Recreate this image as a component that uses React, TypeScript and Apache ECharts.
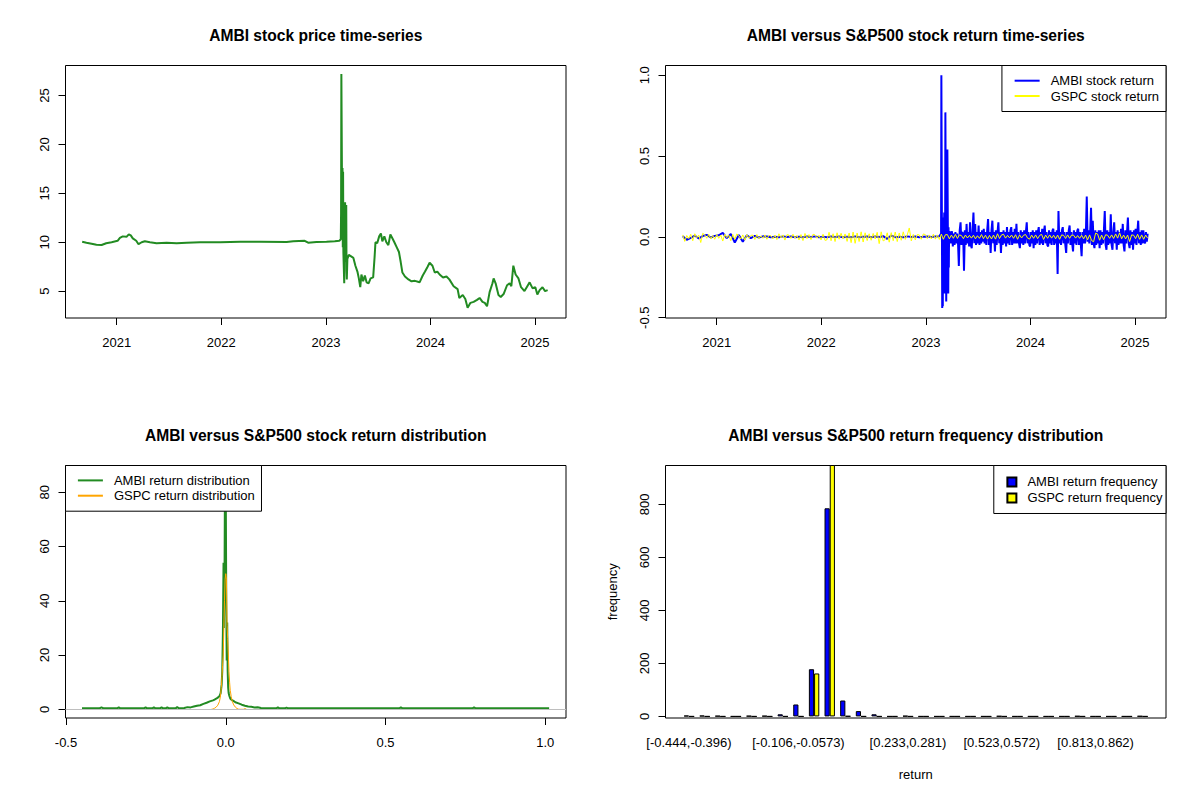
import React, { useEffect, useRef } from 'react';
import * as echarts from 'echarts';

const FONT = '"Liberation Sans", Arial, sans-serif';

// ---- top-left: AMBI closing price ----
const priceDates = [
  '2020-09-02', '2020-09-17', '2020-10-05', '2020-10-22', '2020-11-09', '2020-11-25', '2020-12-14',
  '2021-01-04', '2021-01-12', '2021-01-22', '2021-02-04', '2021-02-12', '2021-02-19', '2021-02-26',
  '2021-03-10', '2021-03-18', '2021-03-29', '2021-04-09', '2021-04-27', '2021-05-20', '2021-06-24',
  '2021-07-29', '2021-09-02', '2021-10-19', '2021-12-28', '2022-03-08', '2022-05-16', '2022-08-17',
  '2022-09-09', '2022-10-19', '2022-10-31', '2022-11-29', '2023-01-03', '2023-02-01', '2023-02-17',
  '2023-02-22', '2023-02-23', '2023-02-24', '2023-02-27', '2023-02-28', '2023-03-01', '2023-03-02',
  '2023-03-03', '2023-03-06', '2023-03-07', '2023-03-08', '2023-03-09', '2023-03-10', '2023-03-13',
  '2023-03-14', '2023-03-15', '2023-03-17', '2023-03-22', '2023-04-07', '2023-04-14', '2023-04-21',
  '2023-04-26', '2023-05-01', '2023-05-05', '2023-05-11', '2023-05-17', '2023-05-23', '2023-05-30',
  '2023-06-06', '2023-06-15', '2023-06-20', '2023-06-23', '2023-06-29', '2023-07-06', '2023-07-12',
  '2023-07-17', '2023-07-24', '2023-07-31', '2023-08-07', '2023-08-14', '2023-08-21', '2023-08-28',
  '2023-09-05', '2023-09-13', '2023-09-19', '2023-09-25', '2023-10-04', '2023-10-16', '2023-10-27',
  '2023-11-08', '2023-11-24', '2023-12-05', '2023-12-13', '2023-12-22', '2023-12-29', '2024-01-08',
  '2024-01-16', '2024-01-25', '2024-02-02', '2024-02-14', '2024-02-26', '2024-03-07', '2024-03-22',
  '2024-04-05', '2024-04-11', '2024-04-23', '2024-05-02', '2024-05-10', '2024-05-20', '2024-05-31',
  '2024-06-12', '2024-06-21', '2024-07-01', '2024-07-09', '2024-07-17', '2024-07-26', '2024-08-05',
  '2024-08-09', '2024-08-16', '2024-08-26', '2024-09-03', '2024-09-13', '2024-09-25', '2024-10-04',
  '2024-10-10', '2024-10-17', '2024-10-25', '2024-11-04', '2024-11-13', '2024-11-25', '2024-12-05',
  '2024-12-13', '2024-12-23', '2025-01-02', '2025-01-09', '2025-01-17', '2025-01-27', '2025-02-05',
  '2025-02-14',
];
const priceValues = [
  10.05, 9.95, 9.85, 9.75, 9.72, 9.9, 10.0,
  10.15, 10.45, 10.6, 10.55, 10.8, 10.7, 10.4,
  10.15, 9.8, 10.0, 10.1, 10.0, 9.9, 9.95,
  9.9, 9.95, 10.0, 10.0, 10.05, 10.05, 10.02,
  10.1, 10.15, 9.95, 10.02, 10.05, 10.1, 10.15,
  10.3, 13.0, 27.2, 12.0, 17.6, 9.5, 17.2,
  9.0, 5.8, 9.5, 12.0, 14.1, 8.0, 13.8,
  7.0, 6.2, 8.3, 8.7, 8.4, 7.6, 7.0,
  6.3, 5.4, 6.7, 6.0, 6.6, 5.9, 5.8,
  6.3, 6.4, 8.5, 10.0, 9.9, 10.6, 10.9,
  10.1, 10.6, 10.0, 9.7, 10.8, 10.4, 10.0,
  9.5, 9.0, 8.0, 6.9, 6.5, 6.2, 6.0,
  6.05, 5.9, 6.6, 7.0, 7.5, 7.9, 7.6,
  6.9, 7.0, 6.7, 6.4, 6.5, 6.2, 5.5,
  5.2, 4.3, 4.6, 4.2, 3.3, 3.8, 3.9,
  4.1, 4.3, 3.9, 3.8, 3.45, 4.9, 5.8,
  6.3, 5.8, 4.6, 4.4, 4.7, 5.6, 5.8,
  5.5, 7.6, 6.7, 6.3, 5.4, 5.0, 5.5,
  5.9, 5.3, 5.4, 4.65, 5.1, 5.4, 5.0,
  5.1,
];

// ---- top-right: daily returns (sampled) ----
const gspcReturnStart = '2020-09-04'; // one value per week
const gspcReturns = [
  0.012, -0.028, 0.008, -0.011, 0.016, -0.024, 0.019, -0.006, 0.011, -0.035, 0.022, 0.012, -0.009, 0.016, -0.012, 0.008, -0.015,
  0.014, -0.009, 0.011, -0.026, 0.016, -0.005, 0.011, -0.024, 0.015, -0.015, 0.018, 0.007, -0.013, 0.012, -0.021, 0.014, -0.008,
  0.009, 0.011, -0.016, 0.014, -0.011, 0.006, -0.009, 0.012, -0.015, 0.009, 0.007, -0.013, 0.010, -0.017, 0.019, -0.006, 0.012,
  -0.020, 0.013, 0.011, -0.010, 0.016, -0.008, 0.009, -0.019, 0.014, -0.023, 0.021, -0.011, 0.014, -0.017, 0.016, 0.012, -0.009, 0.010,
  -0.019, 0.016, -0.022, -0.018, 0.028, -0.024, 0.019, -0.029, 0.025, -0.015, 0.022, -0.012, 0.018, -0.028, 0.024, -0.036, 0.030,
  -0.040, 0.024, -0.029, 0.031, -0.032, 0.025, -0.023, 0.019, -0.021, 0.021, -0.013, 0.028, -0.042, 0.031, -0.025, -0.017, 0.025,
  -0.033, 0.026, -0.024, 0.030, -0.029, 0.024, -0.021, 0.031, -0.016, 0.012, 0.055, -0.025, 0.015, -0.019, 0.014, 0.012, -0.015, 0.018,
  0.014, -0.011, 0.012, -0.013, 0.016, -0.014, 0.012, -0.016, 0.017, -0.015, 0.013, 0.014, -0.012, 0.011, -0.009, 0.015, -0.010,
  0.012, 0.008, -0.011, 0.011, -0.007, 0.009, -0.008, 0.010, -0.012, 0.007, -0.009, 0.014, -0.011, 0.010, -0.014, 0.009, -0.013,
  0.011, -0.014, 0.019, -0.010, 0.012, 0.016, -0.008, 0.009, -0.006, 0.011, -0.009, 0.013, -0.015, 0.012, -0.007, 0.010, 0.014, -0.008,
  -0.014, 0.011, -0.009, 0.012, -0.011, 0.009, 0.015, -0.016, 0.011, -0.009, 0.012, -0.008, 0.010, -0.012, 0.011, -0.015, 0.012,
  0.009, -0.010, 0.012, -0.009, 0.011, 0.010, -0.008, 0.008, -0.009, 0.010, -0.012, 0.011, -0.018, 0.012, -0.023, -0.030, 0.023,
  0.017, -0.021, 0.011, -0.017, 0.013, 0.010, -0.009, 0.012, -0.010, 0.018, -0.008, 0.025, -0.012, 0.011, -0.013, 0.011, -0.029, 0.012, 0.010,
  -0.011, 0.016, -0.015, 0.012, -0.015, 0.011, -0.008,
];
const ambiEarlyStart = '2020-09-04'; // one value per 14 days, before the listing
const ambiEarlyReturns = [
  0.004, -0.018, -0.006, 0.008, -0.010, 0.005, 0.012, -0.004, 0.006, 0.010, 0.025,
  -0.008, 0.018, -0.035, 0.012, -0.030, 0.010, -0.008, 0.006, -0.004, 0.003,
  0.002, -0.003, 0.001, -0.002, 0.003, -0.001, 0.002, -0.002, 0.001, -0.003,
  0.002, -0.001, 0.003, -0.002, 0.001, -0.002, 0.002, -0.001, 0.002, -0.003,
  0.001, -0.002, 0.003, -0.002, 0.001, 0.002, -0.003, 0.002, -0.001, 0.004,
  -0.012, 0.008, -0.002, 0.001, -0.002, 0.003, -0.001, 0.002, -0.002, 0.001,
  0.002, -0.001, 0.002, 0.003,
];
const ambiListingDates = [
  '2023-02-23', '2023-02-24', '2023-02-27', '2023-02-28', '2023-03-01', '2023-03-02', '2023-03-03',
  '2023-03-06', '2023-03-07', '2023-03-08', '2023-03-09', '2023-03-10', '2023-03-13', '2023-03-14',
  '2023-03-15', '2023-03-16', '2023-03-17', '2023-03-20', '2023-03-21', '2023-03-22', '2023-03-23',
];
const ambiListingReturns = [
  0.02, 1.0, -0.44, 0.12, -0.43, 0.08, -0.2,
  0.15, -0.35, 0.05, -0.15, 0.77, -0.4, 0.1,
  -0.3, 0.05, 0.54, -0.35, 0.06, -0.19, 0.03,
];
const ambiLateStart = '2023-03-27'; // one value per 3 days
const ambiLateReturns = [
  0.03, -0.04, 0.035, -0.06, 0.02, -0.05, 0.03, -0.04, 0.02, -0.03,
  -0.18, 0.04, 0.09, -0.05, 0.03, 0.02, -0.21, 0.04, -0.05, 0.08,
  -0.04, 0.03, -0.06, 0.09, -0.05, -0.07, 0.04, 0.15, -0.04, 0.08,
  -0.05, 0.03, -0.04, 0.07, -0.05, 0.03, -0.04, 0.04, -0.03, 0.05,
  -0.04, 0.03, -0.05, 0.04, 0.11, -0.05, 0.03, -0.1, 0.04, 0.1,
  -0.04, 0.03, -0.09, 0.04, -0.05, 0.03, 0.09, -0.04, 0.03, -0.1,
  0.03, -0.05, 0.04, -0.04, 0.03, -0.06, 0.06, -0.04, 0.03, -0.05,
  0.04, 0.06, -0.05, 0.03, -0.04, 0.05, -0.04, 0.08, -0.04, 0.03,
  -0.04, -0.07, 0.04, -0.04, 0.03, -0.05, 0.04, -0.04, 0.03, 0.09,
  -0.04, 0.03, -0.05, -0.06, 0.03, -0.04, 0.04, -0.07, 0.03, -0.05,
  0.04, -0.04, 0.03, 0.06, -0.05, 0.03, -0.04, 0.05, -0.05, 0.03,
  0.07, -0.04, 0.03, -0.05, -0.06, 0.04, -0.04, 0.03, -0.05, 0.04,
  0.05, -0.05, 0.03, -0.04, 0.04, -0.23, 0.16, -0.04, 0.03, -0.05,
  0.04, 0.06, -0.04, 0.03, -0.05, -0.1, 0.03, -0.04, 0.04, 0.07,
  -0.05, 0.03, -0.04, -0.09, 0.04, -0.04, 0.03, -0.05, 0.04, 0.05,
  -0.05, 0.03, -0.04, -0.12, 0.03, -0.04, 0.05, -0.04, 0.03, 0.25,
  -0.03, 0.04, -0.04, 0.03, 0.18, -0.05, 0.1, -0.04, -0.07, 0.04,
  -0.05, 0.03, -0.04, 0.04, -0.07, 0.04, -0.05, 0.03, -0.04, 0.04,
  0.16, -0.05, -0.08, 0.04, -0.05, 0.03, -0.04, 0.14, -0.05, -0.08,
  0.03, 0.09, -0.04, 0.03, -0.08, 0.04, -0.05, 0.03, -0.04, 0.05,
  -0.04, 0.08, -0.05, -0.09, 0.04, -0.04, 0.03, 0.12, -0.04, -0.07,
  0.04, -0.05, 0.03, -0.08, 0.04, -0.04, 0.05, -0.05, 0.03, 0.1,
  -0.04, 0.03, -0.05, 0.04, -0.04, 0.04, -0.03, -0.04, 0.03, -0.03,
  0.02,
];

// ---- bottom-left: kernel density of returns ----
const ambiDensityX = [
  -0.45, -0.395, -0.389, -0.383, -0.34, -0.335, -0.33, -0.256, -0.251, -0.246, -0.23, -0.225, -0.22,
  -0.206, -0.201, -0.196, -0.188, -0.183, -0.178, -0.157, -0.152, -0.147, -0.13, -0.12, -0.11,
  -0.1, -0.09, -0.08, -0.07, -0.06, -0.05, -0.04, -0.035, -0.03, -0.025, -0.02, -0.016, -0.013,
  -0.011, -0.009, -0.007, -0.006, -0.004, -0.003, -0.0015, 0, 0.0015, 0.003, 0.0045, 0.006, 0.0075,
  0.009, 0.011, 0.014, 0.018, 0.024, 0.03, 0.04, 0.05, 0.06, 0.07, 0.08, 0.09, 0.1, 0.11, 0.13,
  0.158, 0.163, 0.168, 0.185, 0.19, 0.195, 0.3, 0.543, 0.548, 0.553, 0.772, 0.777, 0.782, 1.012,
];
const ambiDensityY = [
  0.35, 0.35, 0.7, 0.35, 0.35, 0.7, 0.35, 0.35, 0.7, 0.35, 0.35, 0.7, 0.35,
  0.35, 0.7, 0.35, 0.35, 0.7, 0.35, 0.35, 0.8, 0.4, 0.5, 0.8, 0.7,
  1.0, 1.3, 1.5, 2.0, 2.4, 2.9, 3.3, 3.6, 3.9, 4.3, 4.8, 6, 9,
  14, 28, 54, 30, 45, 72, 86.5, 80, 40, 18, 32, 14, 8,
  6, 5, 4, 3.5, 3.1, 2.6, 2.2, 1.7, 1.3, 1.0, 0.9, 0.7, 0.75, 0.5, 0.35,
  0.35, 0.7, 0.35, 0.35, 0.6, 0.35, 0.35, 0.35, 0.7, 0.35, 0.35, 0.7, 0.35, 0.35,
];
const gspcDensityX = [
  -0.045, -0.04, -0.035, -0.03, -0.025, -0.02, -0.017, -0.014, -0.012, -0.01, -0.008, -0.006, -0.004,
  -0.002, 0, 0.002, 0.004, 0.006, 0.008, 0.01, 0.012, 0.014, 0.017, 0.02, 0.025, 0.03, 0.035, 0.04,
  0.045, 0.055, 0.06, 0.065,
];
const gspcDensityY = [
  0, 0.1, 0.4, 0.8, 1.5, 2.8, 4.5, 8, 12, 16, 20, 30, 40,
  48, 50, 48, 31, 26, 20, 14, 10, 7, 4.7, 3, 1.6, 0.8, 0.3, 0.05,
  0, 0, 0.25, 0,
];

// ---- bottom-right: return frequency ----
const returnBins = [
  '[-0.444,-0.396)', '[-0.396,-0.347)', '[-0.347,-0.299)', '[-0.299,-0.251)', '[-0.251,-0.202)',
  '[-0.202,-0.154)', '[-0.154,-0.106)', '[-0.106,-0.0573)', '[-0.0573,-0.00895)', '[-0.00895,0.0394)',
  '[0.0394,0.0878)', '[0.0878,0.136)', '[0.136,0.184)', '[0.184,0.233)', '[0.233,0.281)',
  '[0.281,0.33)', '[0.33,0.378)', '[0.378,0.426)', '[0.426,0.475)', '[0.475,0.523)',
  '[0.523,0.572)', '[0.572,0.62)', '[0.62,0.668)', '[0.668,0.716)', '[0.716,0.765)',
  '[0.765,0.813)', '[0.813,0.862)', '[0.862,0.91)', '[0.91,0.958)', '[0.958,1.01]',
];
const ambiFreq = [3, 3, 2, 0, 2, 2, 8, 45, 178, 785, 60, 20, 8, 0, 2, 0, 0, 0, 0, 0, 1, 0, 0, 0, 0, 1, 0, 0, 0, 1];
const gspcFreq = [0, 0, 0, 0, 0, 0, 0, 0, 162, 958, 1, 0, 0, 0, 0, 0, 0, 0, 0, 0, 0, 0, 0, 0, 0, 0, 0, 0, 0, 0];
const shownBinLabels = [0, 7, 14, 20, 26];

const yearTicks = [2021, 2022, 2023, 2024, 2025];
const priceTicks = [5, 10, 15, 20, 25];
const returnTicks = [-0.5, 0, 0.5, 1];
const densityXTicks = [-0.5, 0, 0.5, 1];
const densityYTicks = [0, 20, 40, 60, 80];
const freqTicks = [0, 200, 400, 600, 800];

const DAY = 86400000;
const toYear = (t: number) => {
  const y = new Date(t).getUTCFullYear();
  const a = Date.UTC(y, 0, 1);
  const b = Date.UTC(y + 1, 0, 1);
  return y + (t - a) / (b - a);
};
const onDates = (dates: string[], values: number[]) => dates.map((d, i) => [toYear(Date.parse(d)), values[i]]);
const onGrid = (start: string, stepDays: number, values: number[]) =>
  values.map((v, i) => [toYear(Date.parse(start) + i * stepDays * DAY), v]);
const pairs = (xs: number[], ys: number[]) => xs.map((x, i) => [x, ys[i]]);

const textBase = { fontFamily: FONT, fontSize: 13, color: '#000' };

const grids = [
  { left: 65.5, top: 65.5, width: 500.5, height: 252.5 },
  { left: 665.5, top: 65.5, width: 500.5, height: 252.5 },
  { left: 65.5, top: 465.5, width: 500.5, height: 252.5 },
  { left: 665.5, top: 465.5, width: 500.5, height: 252.5 },
].map((g) => ({ ...g, show: true, borderColor: '#000', borderWidth: 1, containLabel: false, outerBoundsMode: 'none' }));

const valueAxis = (
  gridIndex: number, min: number, max: number, ticks: number[],
  fmt: (v: number) => string, isY: boolean,
) => ({
  type: 'value', gridIndex, min, max, scale: true,
  axisLine: { show: false, onZero: false },
  axisTick: { show: true, length: 7, inside: false, customValues: ticks, lineStyle: { color: '#000', width: 1 } },
  axisLabel: { ...textBase, customValues: ticks, formatter: fmt, rotate: isY ? 90 : 0, margin: isY ? 15 : 18 },
  splitLine: { show: false },
});

const yearFmt = (v: number) => String(Math.round(v));
const intFmt = (v: number) => String(Math.round(v));
const oneDec = (v: number) => v.toFixed(1);

const legendBase = {
  orient: 'vertical', itemWidth: 25, itemHeight: 14, itemGap: 2.3,
  borderColor: '#000', borderWidth: 1, borderRadius: 0, backgroundColor: '#fff',
  selectedMode: false, textStyle: { ...textBase, padding: [0, 0, 0, 6] },
};
// line legends show only the line sample, no marker
const lineLegend = { ...legendBase, itemStyle: { opacity: 0 } };

const titleStyle = { fontFamily: FONT, fontSize: 15.6, fontWeight: 'bold', color: '#000' };

const option = {
  animation: false,
  backgroundColor: '#fff',
  title: [
    { text: 'AMBI stock price time-series', left: 315.75, top: 27 },
    { text: 'AMBI versus S&P500 stock return time-series', left: 915.75, top: 27 },
    { text: 'AMBI versus S&P500 stock return distribution', left: 315.75, top: 427 },
    { text: 'AMBI versus S&P500 return frequency distribution', left: 915.75, top: 427 },
  ].map((t) => ({ ...t, textAlign: 'center', padding: 0, textStyle: titleStyle })),
  legend: [
    {
      ...lineLegend, data: ['AMBI stock return', 'GSPC stock return'],
      right: 34, top: 65.5, padding: [8.7, 7, 9, 11.7],
    },
    {
      ...lineLegend, data: ['AMBI return distribution', 'GSPC return distribution'],
      left: 65.5, top: 465.5, padding: [8.4, 6.7, 9, 11.4],
    },
    {
      ...legendBase, data: ['AMBI return frequency', 'GSPC return frequency'],
      right: 34, top: 465.5, icon: 'rect', itemWidth: 9, itemHeight: 9, itemGap: 3,
      padding: [9.9, 3.5, 9.1, 12.6],
    },
  ],
  grid: grids,
  xAxis: [
    valueAxis(0, 2020.51, 2025.296, yearTicks, yearFmt, false),
    valueAxis(1, 2020.51, 2025.296, yearTicks, yearFmt, false),
    valueAxis(2, -0.5016, 1.0648, densityXTicks, oneDec, false),
    {
      type: 'category', gridIndex: 3, data: ['', ...returnBins, ''],
      axisLine: { show: false, onZero: false }, axisTick: { show: false }, splitLine: { show: false },
      axisLabel: { ...textBase, margin: 18, interval: (i: number) => shownBinLabels.includes(i - 1) },
      name: 'return', nameLocation: 'middle', nameGap: 50, nameTextStyle: textBase,
    },
  ],
  yAxis: [
    valueAxis(0, 2.25, 28.08, priceTicks, intFmt, true),
    valueAxis(1, -0.502, 1.06, returnTicks, oneDec, true),
    valueAxis(2, -3.21, 89.88, densityYTicks, intFmt, true),
    {
      ...valueAxis(3, -6, 946.5, freqTicks, intFmt, true),
      name: 'frequency', nameLocation: 'middle', nameGap: 47, nameTextStyle: textBase,
    },
  ],
  series: [
    {
      type: 'line', name: 'AMBI price', xAxisIndex: 0, yAxisIndex: 0, symbol: 'none',
      data: onDates(priceDates, priceValues), lineStyle: { color: '#228B22', width: 2 },
    },
    {
      type: 'line', name: 'AMBI stock return', xAxisIndex: 1, yAxisIndex: 1, symbol: 'none',
      data: [
        ...onGrid(ambiEarlyStart, 14, ambiEarlyReturns),
        ...onDates(ambiListingDates, ambiListingReturns),
        ...onGrid(ambiLateStart, 3, ambiLateReturns),
      ],
      color: '#0000FF', lineStyle: { color: '#0000FF', width: 2 },
    },
    {
      type: 'line', name: 'GSPC stock return', xAxisIndex: 1, yAxisIndex: 1, symbol: 'none',
      data: onGrid(gspcReturnStart, 7, gspcReturns),
      color: '#FFFF00', lineStyle: { color: '#FFFF00', width: 1 },
    },
    {
      type: 'line', name: 'AMBI return distribution', xAxisIndex: 2, yAxisIndex: 2, symbol: 'none',
      data: pairs(ambiDensityX, ambiDensityY),
      color: '#228B22', lineStyle: { color: '#228B22', width: 2 },
      markLine: {
        silent: true, symbol: 'none', label: { show: false },
        lineStyle: { color: '#BEBEBE', width: 1, type: 'solid' },
        data: [{ yAxis: 0 }],
      },
    },
    {
      type: 'line', name: 'GSPC return distribution', xAxisIndex: 2, yAxisIndex: 2, symbol: 'none',
      data: pairs(gspcDensityX, gspcDensityY),
      color: '#FFA500', lineStyle: { color: '#FFA500', width: 1 },
    },
    {
      type: 'bar', name: 'AMBI return frequency', xAxisIndex: 3, yAxisIndex: 3,
      data: ['-', ...ambiFreq, '-'], barWidth: 5.2, barGap: '0%',
      itemStyle: { color: '#0000FF', borderColor: '#000', borderWidth: 1 },
    },
    {
      type: 'bar', name: 'GSPC return frequency', xAxisIndex: 3, yAxisIndex: 3,
      data: ['-', ...gspcFreq, '-'], barWidth: 5.2, barGap: '0%',
      itemStyle: { color: '#FFFF00', borderColor: '#000', borderWidth: 1 },
    },
  ],
};

export default function App() {
  const chartRef = useRef<HTMLDivElement | null>(null);

  useEffect(() => {
    if (!chartRef.current) return;
    const chart = echarts.init(chartRef.current, null, { renderer: 'svg' });
    chart.setOption(option as any);
    return () => {
      chart.dispose();
    };
  }, []);

  return (
    <div
      ref={chartRef}
      style={{ position: 'absolute', left: 0, top: 0, width: 1200, height: 800, background: '#fff' }}
    />
  );
}
